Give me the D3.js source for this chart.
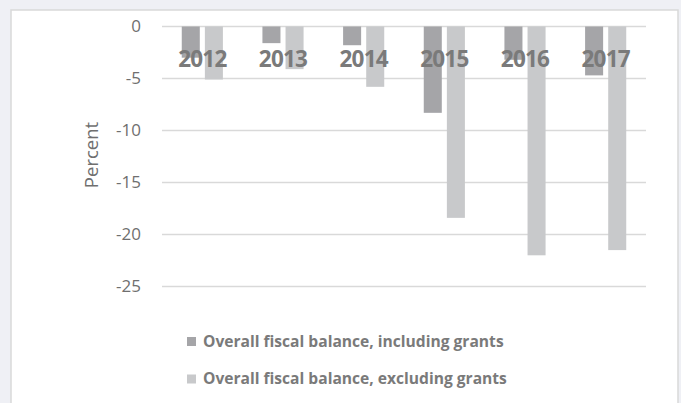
<!DOCTYPE html>
<html><head><meta charset="utf-8">
<script src="https://cdn.jsdelivr.net/npm/d3@7"></script>
<style>
html,body{margin:0;padding:0;background:#eff0f5;}
svg{display:block;}
</style></head>
<body>
<svg id="c" width="681" height="403"></svg>
<script>
const years = ["2012","2013","2014","2015","2016","2017"];
const seriesNames = ["Overall fiscal balance, including grants","Overall fiscal balance, excluding grants"];
const including = [-3.0,-1.6,-1.8,-8.3,-3.2,-4.7];
const excluding = [-5.1,-4.1,-5.8,-18.4,-22.0,-21.5];
const yTicks = [0,-5,-10,-15,-20,-25];
const colors = ["#a5a5a8","#c8c9cb"];

const svg = d3.select("#c");
// panel
svg.append("rect").attr("x",11).attr("y",10).attr("width",667).attr("height",400)
  .attr("fill","#fff").attr("stroke","#d9d9d9").attr("stroke-width",1.5);

const x0 = d3.scaleBand().domain(years).range([162,646]).paddingInner(0.49).paddingOuter(0.245);
const x1 = d3.scaleBand().domain([0,1]).range([0,x0.bandwidth()]).paddingInner(0.22);
const y = d3.scaleLinear().domain([-25,0]).range([286.5,26.5]);

// gridlines
svg.append("g").selectAll("line").data(yTicks).join("line")
  .attr("x1",162).attr("x2",646)
  .attr("y1",d=>y(d)).attr("y2",d=>y(d))
  .attr("stroke","#d9d9d9").attr("stroke-width",1.3);

// y axis labels
const yAxis = d3.axisLeft(y).tickValues(yTicks).tickSize(0).tickPadding(0).tickFormat(d=>String(d));
const ga = svg.append("g").attr("transform","translate(141,0)").call(yAxis);
ga.select(".domain").remove();
ga.selectAll("text").attr("fill","#6f6f6f").style("font-family","'Open Sans',sans-serif").style("font-size","17px");

// bars
const data = years.map((yr,i)=>({yr, vals:[including[i],excluding[i]]}));
const g = svg.append("g");
g.selectAll("g").data(data).join("g")
  .attr("transform",d=>`translate(${x0(d.yr)},0)`)
  .selectAll("rect").data(d=>d.vals.map((v,k)=>({v,k}))).join("rect")
  .attr("x",d=>x1(d.k)).attr("width",x1.bandwidth())
  .attr("y",y(0)).attr("height",d=>y(d.v)-y(0))
  .attr("fill",d=>colors[d.k]);

// category labels
svg.append("g").selectAll("text").data(years).join("text")
  .attr("x",d=>x0(d)+x0.bandwidth()/2).attr("y",66.5)
  .attr("text-anchor","middle")
  .attr("fill","#7a7a7a").style("font-family","'Open Sans',sans-serif")
  .style("font-weight","bold").style("font-size","22.5px").style("letter-spacing","-0.8px")
  .text(d=>d);

// y title
svg.append("text").attr("transform","translate(98,155) rotate(-90)")
  .attr("text-anchor","middle").attr("fill","#6f6f6f")
  .style("font-family","'Open Sans',sans-serif").style("font-size","18.5px")
  .text("Percent");

// legend
const lg = svg.append("g").selectAll("g").data(seriesNames).join("g")
  .attr("transform",(d,i)=>`translate(187,${341.5+i*37.5})`);
lg.append("rect").attr("x",0).attr("y",-4.5).attr("width",9).attr("height",9).attr("fill",(d,i)=>colors[i]);
lg.append("text").attr("x",16).attr("y",0).attr("dy","0.35em")
  .attr("fill","#7a7a7a").style("font-family","'Open Sans',sans-serif")
  .style("font-weight","bold").style("font-size","15.6px")
  .text(d=>d);
</script>
</body></html>
